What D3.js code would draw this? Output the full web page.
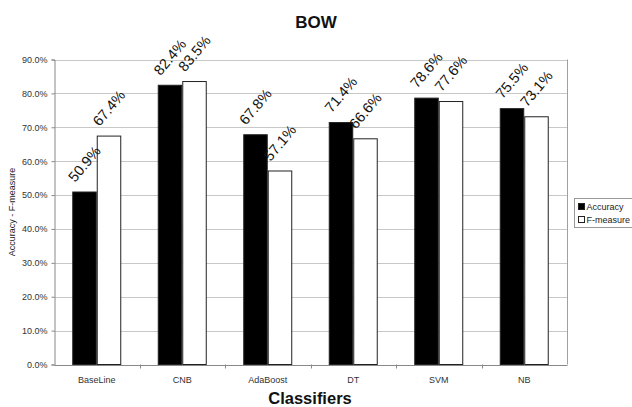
<!DOCTYPE html>
<html>
<head>
<meta charset="utf-8">
<script src="https://cdn.jsdelivr.net/npm/d3@7"></script>
<style>
  html, body { margin: 0; padding: 0; background: #fff; }
  svg { display: block; }
  text { font-family: "Liberation Sans", Arial, sans-serif; }
</style>
</head>
<body>
<svg id="chart" width="632" height="407"></svg>
<script>
const categories = ["BaseLine", "CNB", "AdaBoost", "DT", "SVM", "NB"];
const seriesNames = ["Accuracy", "F-measure"];
const accuracy = [50.9, 82.4, 67.8, 71.4, 78.6, 75.5];
const fmeasure = [67.4, 83.5, 57.1, 66.6, 77.6, 73.1];
const yTicks = [0, 10, 20, 30, 40, 50, 60, 70, 80, 90];
const seriesValues = [accuracy, fmeasure];
const seriesFill = ["#000000", "#ffffff"];

const svg = d3.select("#chart");
const plot = { left: 54, right: 567, top: 59.5, bottom: 364.5 };

const x0 = d3.scaleBand().domain(categories).range([plot.left, plot.right]).paddingInner(0).paddingOuter(0);
const x1 = d3.scaleBand().domain(seriesNames).range([0, x0.bandwidth()]).paddingInner(0).paddingOuter(0.745);
const y = d3.scaleLinear().domain([0, 90]).range([plot.bottom, plot.top]);

svg.append("g").selectAll("line").data(yTicks.slice(1)).join("line")
  .attr("x1", plot.left).attr("x2", plot.right)
  .attr("y1", d => Math.round(y(d)) + 0.5).attr("y2", d => Math.round(y(d)) + 0.5)
  .attr("stroke", "#c8c8c8").attr("stroke-width", 1);

svg.append("line")
  .attr("x1", plot.right + 0.5).attr("x2", plot.right + 0.5)
  .attr("y1", plot.top).attr("y2", plot.bottom)
  .attr("stroke", "#a0a0a0");

const groups = svg.append("g").selectAll("g").data(categories).join("g")
  .attr("transform", d => `translate(${x0(d)},0)`);

groups.each(function(cat, ci) {
  const g = d3.select(this);
  seriesNames.forEach((s, si) => {
    const v = seriesValues[si][ci];
    g.append("rect")
      .attr("x", x1(s) + 0.5)
      .attr("y", y(v))
      .attr("width", x1.bandwidth() - 1)
      .attr("height", y(0) - y(v))
      .attr("fill", seriesFill[si])
      .attr("stroke", "#222")
      .attr("stroke-width", 1);
  });
});

const ang = 50;
groups.each(function(cat, ci) {
  const g = d3.select(this);
  seriesNames.forEach((s, si) => {
    const v = seriesValues[si][ci];
    const cx = x1(s) + x1.bandwidth() / 2;
    const cy = y(v) - 28;
    g.append("text")
      .attr("transform", `translate(${cx},${cy}) rotate(${-ang})`)
      .attr("text-anchor", "middle")
      .attr("dominant-baseline", "central")
      .attr("font-size", 14.5)
      .attr("fill", "#111")
      .text(v.toFixed(1) + "%");
  });
});

const yAxis = d3.axisLeft(y).tickValues(yTicks).tickSize(3).tickPadding(4)
  .tickFormat(d => d.toFixed(1) + "%");
const gy = svg.append("g").attr("transform", `translate(${plot.left + 0.5},0)`).call(yAxis);
gy.select(".domain").attr("stroke", "#888");
gy.selectAll(".tick line").attr("stroke", "#888");
gy.selectAll(".tick text").attr("font-size", 9).attr("fill", "#333")
  .attr("font-family", "'Liberation Sans', Arial, sans-serif");

const xAxis = d3.axisBottom(x0).tickSize(0).tickPadding(12);
const gx = svg.append("g").attr("transform", `translate(0,${plot.bottom + 0.5})`).call(xAxis);
gx.select(".domain").attr("stroke", "#888");
gx.selectAll(".tick text").attr("font-size", 9).attr("fill", "#333")
  .attr("font-family", "'Liberation Sans', Arial, sans-serif");
svg.append("g").selectAll("line").data(categories.slice(1)).join("line")
  .attr("x1", d => Math.round(x0(d)) + 0.5).attr("x2", d => Math.round(x0(d)) + 0.5)
  .attr("y1", plot.bottom).attr("y2", plot.bottom + 4)
  .attr("stroke", "#888");

svg.append("text").attr("x", 316).attr("y", 28).attr("text-anchor", "middle")
  .attr("font-size", 17).attr("font-weight", "bold").attr("fill", "#111").text("BOW");
svg.append("text").attr("x", 310).attr("y", 404).attr("text-anchor", "middle")
  .attr("font-size", 16.5).attr("font-weight", "bold").attr("fill", "#111").text("Classifiers");
svg.append("text")
  .attr("transform", `translate(12,${(plot.top + plot.bottom) / 2}) rotate(-90)`)
  .attr("text-anchor", "middle").attr("dominant-baseline", "central")
  .attr("font-size", 9).attr("fill", "#222").text("Accuracy - F-measure");

const lg = svg.append("g").attr("transform", "translate(574.5,198.5)");
lg.append("rect").attr("width", 70).attr("height", 29).attr("fill", "#fff").attr("stroke", "#999");
seriesNames.forEach((s, i) => {
  lg.append("rect").attr("x", 4).attr("y", 5 + i * 13).attr("width", 6).attr("height", 6)
    .attr("fill", seriesFill[i]).attr("stroke", "#222");
  lg.append("text").attr("x", 12).attr("y", 11 + i * 13).attr("font-size", 9).attr("fill", "#222").text(s);
});
</script>
</body>
</html>
